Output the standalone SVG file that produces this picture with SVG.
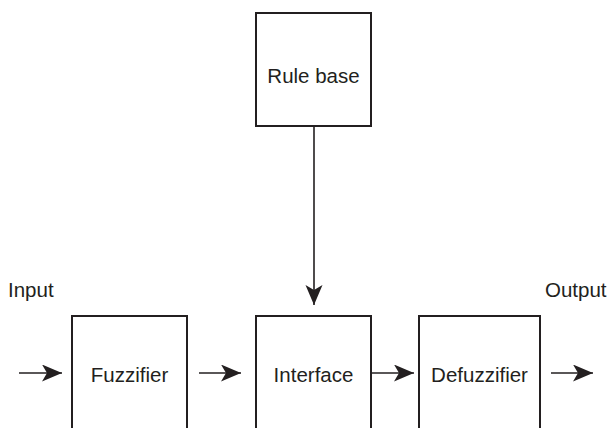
<svg xmlns="http://www.w3.org/2000/svg" width="610" height="428" viewBox="0 0 610 428">
<defs>
<marker id="ah" markerUnits="userSpaceOnUse" markerWidth="22" markerHeight="18" refX="20" refY="8.5" orient="auto">
<path d="M0,0 L20,8.5 L0,17 L5,8.5 Z" fill="#231f20"/>
</marker>
</defs>
<style>
.box{fill:#fff;stroke:#231f20;stroke-width:2}
.t{font-family:"Liberation Sans",Arial,sans-serif;font-size:20.5px;fill:#231f20}
.c{text-anchor:middle}
.ln{stroke:#231f20;stroke-width:1.6;fill:none;marker-end:url(#ah)}
</style>
<rect width="610" height="428" fill="#fff"/>
<g id="rulebase"><rect class="box" x="256" y="13" width="115" height="113"/><text class="t c" x="313.5" y="83">Rule base</text></g>
<g id="fuzzifier"><rect class="box" x="72" y="316" width="115" height="130"/><text class="t c" x="129.5" y="382">Fuzzifier</text></g>
<g id="interface"><rect class="box" x="256" y="316" width="115" height="130"/><text class="t c" x="313.5" y="382">Interface</text></g>
<g id="defuzzifier"><rect class="box" x="419" y="316" width="121" height="130"/><text class="t c" x="479.5" y="382">Defuzzifier</text></g>
<g id="labels"><text class="t" x="8" y="297">Input</text><text class="t" x="545" y="297">Output</text></g>
<g id="connectors">
<line class="ln" x1="19" y1="373" x2="62" y2="373"/>
<line class="ln" x1="199" y1="373" x2="241" y2="373"/>
<line class="ln" x1="371" y1="373" x2="414" y2="373"/>
<line class="ln" x1="551" y1="373" x2="593" y2="373"/>
<line class="ln" x1="314" y1="126" x2="314" y2="305"/>
</g>
</svg>
